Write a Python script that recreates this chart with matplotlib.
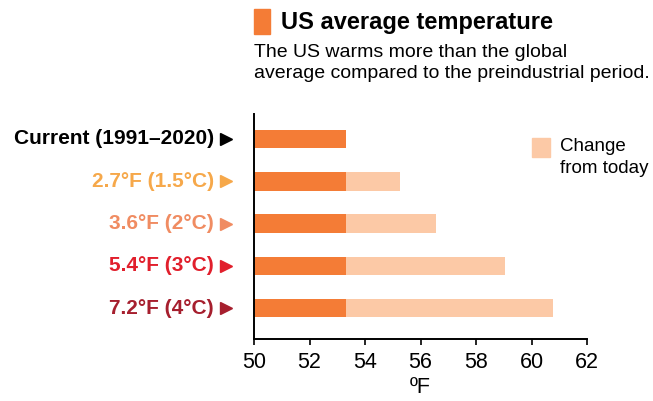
import matplotlib.pyplot as plt
from matplotlib.patches import Rectangle
import matplotlib.transforms as mtransforms

# data
labels = ["Current (1991–2020)", "2.7°F (1.5°C)", "3.6°F (2°C)", "5.4°F (3°C)", "7.2°F (4°C)"]
current = [53.3, 53.3, 53.3, 53.3, 53.3]
future = [53.3, 55.27, 56.55, 59.05, 60.76]
label_colors = ["#000000", "#F6A84A", "#F08C62", "#E11F2C", "#A61F2E"]
xticks = [50, 52, 54, 56, 58, 60, 62]

dark = "#F47C36"
light = "#FCC9A6"

plt.rcParams['font.family'] = ["Liberation Sans", 'DejaVu Sans']

fig = plt.figure(figsize=(6.53, 4.01), dpi=100)
ax = fig.add_axes([0.389, 0.1546, 0.510, 0.561])

y = list(range(len(labels)))
change = [f - c for f, c in zip(future, current)]
left_base = [xticks[0]] * len(labels)
ax.barh(y, [c - xticks[0] for c in current], left=left_base, height=0.44, color=dark)
ax.barh(y, change, left=current, height=0.44, color=light)

ax.set_xlim(50, 62)
ax.set_ylim(4.73, -0.59)
ax.set_xticks(xticks)
ax.set_xticklabels([str(t) for t in xticks], fontsize=15.5)
ax.set_yticks([])
ax.tick_params(axis='x', length=4, width=1.2, pad=5)
for s in ["top", "right"]:
    ax.spines[s].set_visible(False)
ax.spines["left"].set_linewidth(1.4)
ax.spines["bottom"].set_linewidth(1.4)
ax.set_xlabel("ºF", fontsize=15.5, labelpad=3)

trans = mtransforms.blended_transform_factory(ax.transAxes, ax.transData)
for i, (lab, col) in enumerate(zip(labels, label_colors)):
    ax.text(-0.12, i, lab, transform=trans, ha="right", va="center",
            fontsize=15, fontweight="bold", color=col)
    ax.plot([-0.084], [i], marker=">", color=col, markersize=9,
            transform=trans, clip_on=False)

# legend
fig.patches.append(Rectangle((532 / 653, 1 - 157 / 401), 18 / 653, 19 / 401,
                             transform=fig.transFigure, color=light))
fig.text(560 / 653, 1 - 138 / 401, "Change\nfrom today", fontsize=13.5,
         va="top", ha="left", linespacing=1.4)

# title block
fig.patches.append(Rectangle((254 / 653, 1 - 34 / 401), 16 / 653, 25 / 401,
                             transform=fig.transFigure, color=dark))
fig.text(281 / 653, 1 - 22 / 401, "US average temperature", fontsize=17,
         fontweight="bold", va="center", ha="left")
fig.text(254 / 653, 1 - 44 / 401,
         "The US warms more than the global\naverage compared to the preindustrial period.",
         fontsize=14, va="top", ha="left", linespacing=1.3)

fig.savefig("out.png", dpi=100)
